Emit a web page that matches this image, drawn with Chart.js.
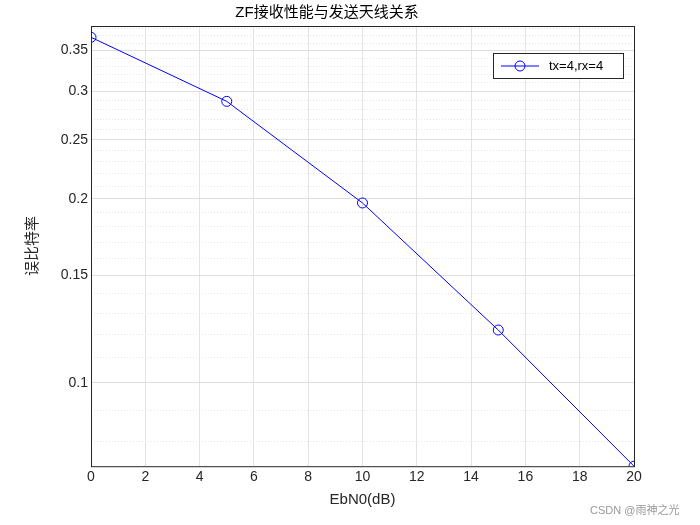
<!DOCTYPE html>
<html><head><meta charset="utf-8">
<script src="https://cdn.jsdelivr.net/npm/chart.js@4.4.0/dist/chart.umd.min.js"></script>
<style>body{margin:0;background:#fff}#wrap{width:700px;height:525px}</style>
</head><body><div id="wrap"><canvas id="c"></canvas></div>
<script>
const ebn0 = [0, 5, 10, 15, 20];
const ber = [0.368, 0.289, 0.197, 0.122, 0.073];
const majorTicks = [0.1, 0.15, 0.2, 0.25, 0.3, 0.35];
const minorTicks = [0.08, 0.09, 0.11, 0.12, 0.13, 0.14, 0.16, 0.17, 0.18, 0.19, 0.21, 0.22, 0.23, 0.24, 0.26, 0.27, 0.28, 0.29, 0.31, 0.32, 0.33, 0.34, 0.36, 0.37, 0.38];
const font = 'Arial, "Liberation Sans", "Noto Sans CJK SC", sans-serif';

const frame = {
  id: 'frame',
  afterDraw(chart) {
    const {ctx, chartArea: a} = chart;
    ctx.save();
    ctx.strokeStyle = '#262626'; ctx.lineWidth = 1;
    ctx.strokeRect(a.left + 0.5, a.top + 0.5, a.right - a.left, a.bottom - a.top);
    // legend
    const lx = 493, ly = 53, lw = 130, lh = 25;
    ctx.fillStyle = '#fff'; ctx.fillRect(lx, ly, lw, lh);
    ctx.strokeRect(lx + 0.5, ly + 0.5, lw, lh);
    ctx.strokeStyle = '#0000ff';
    ctx.beginPath(); ctx.moveTo(lx + 8, ly + 13); ctx.lineTo(lx + 46, ly + 13); ctx.stroke();
    ctx.beginPath(); ctx.arc(lx + 27, ly + 13, 5, 0, Math.PI * 2); ctx.stroke();
    ctx.fillStyle = '#000'; ctx.font = '13px ' + font; ctx.textBaseline = 'middle';
    ctx.fillText('tx=4,rx=4', lx + 56, ly + 13);
    ctx.fillStyle = '#999'; ctx.font = '11px ' + font;
    ctx.fillText('CSDN @雨神之光', 590, 511);
    ctx.restore();
  }
};

new Chart(document.getElementById('c'), {
  type: 'line',
  data: { datasets: [{
    data: ebn0.map((x, i) => ({x, y: ber[i]})),
    borderColor: '#0000ff', borderWidth: 1, backgroundColor: 'transparent',
    pointRadius: 5, pointBorderColor: '#0000ff', pointBackgroundColor: 'transparent', pointBorderWidth: 1
  }]},
  plugins: [frame],
  options: {
    responsive: true, maintainAspectRatio: false, animation: false,
    layout: { padding: { top: 0, right: 66, bottom: 12, left: 20 } },
    plugins: {
      legend: { display: false }, tooltip: { enabled: false },
      title: { display: true, text: 'ZF接收性能与发送天线关系', color: '#000',
        font: { family: font, size: 15, weight: 'normal' }, padding: { top: 4, bottom: 4 } }
    },
    scales: {
      x: { type: 'linear', min: 0, max: 20,
        ticks: { stepSize: 2, color: '#262626', font: { family: font, size: 14 } },
        grid: { color: '#e3e3e3', drawTicks: false, tickLength: 0 },
        border: { display: false },
        title: { display: true, text: 'EbN0(dB)', color: '#262626', font: { family: font, size: 15 }, padding: { top: 2 } }
      },
      y: { type: 'logarithmic', min: 0.073, max: 0.384,
        afterBuildTicks(s) { s.ticks = majorTicks.concat(minorTicks).sort((a, b) => a - b).map(v => ({value: v})); },
        afterFit(s) { s.width = 71; },
        ticks: { autoSkip: false, color: '#262626', font: { family: font, size: 14 },
          callback: v => majorTicks.includes(+v.toFixed(2)) ? String(+v.toFixed(2)) : '' },
        grid: { drawTicks: false,
          color: c => majorTicks.includes(+c.tick.value.toFixed(2)) ? '#dedede' : '#e6e6e6' },
        border: { display: false, dash: c => (c.tick && majorTicks.includes(+c.tick.value.toFixed(2))) ? [] : [1, 2] },
        title: { display: true, text: '误比特率', color: '#262626', font: { family: font, size: 15 } }
      }
    }
  }
});
</script></body></html>
